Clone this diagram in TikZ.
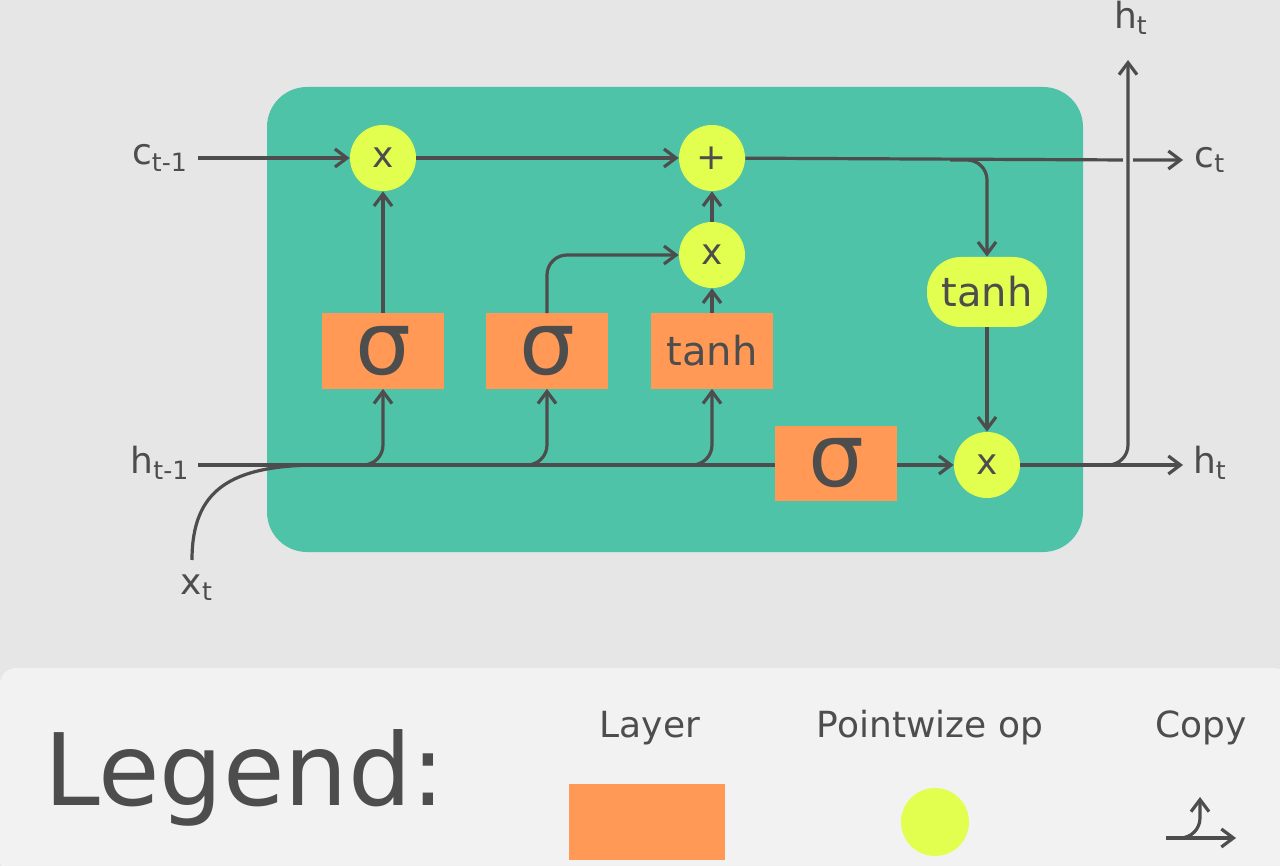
\documentclass[tikz,border=0pt]{standalone}
\usepackage{fontspec}
\setmainfont{DejaVu Sans}
\usetikzlibrary{arrows.meta}
\definecolor{bgtop}{HTML}{E6E6E6}
\definecolor{bgleg}{HTML}{F2F2F2}
\definecolor{cellc}{HTML}{4EC3A7}
\definecolor{layerc}{HTML}{FF9955}
\definecolor{opc}{HTML}{E2FF50}
\definecolor{ink}{HTML}{4D4D4D}
\tikzset{
  layer/.style={fill=layerc, minimum width=61pt, minimum height=37.5pt, inner sep=0pt, text=ink},
  pwop/.style={circle, fill=opc, minimum size=33pt, inner sep=0pt, text=ink, font=\fontsize{18}{18}\selectfont},
  pill/.style={rounded corners=17pt, fill=opc, minimum width=60pt, minimum height=35pt, inner sep=0pt, text=ink, font=\fontsize{20}{20}\selectfont},
  lbl/.style={text=ink, font=\fontsize{18}{18}\selectfont, inner sep=0pt},
  wire/.style={draw=ink, line width=1.6pt, rounded corners=10pt},
  arr/.style={wire, -{Straight Barb[length=6pt,width=9pt,line width=1.6pt]}},
  sig/.style={font=\fontsize{44}{44}\selectfont}
}
\begin{document}
\begin{tikzpicture}[x=0.5pt, y=-0.5pt]
  \useasboundingbox (0,0) rectangle (1280,866);
  \fill[bgtop] (0,0) rectangle (1280,866);
  \fill[bgleg, rounded corners=8pt] (0,668) rectangle (1290,876);
  % cell
  \fill[cellc, rounded corners=20pt] (267,87) rectangle (1083,552);

  % ops
  \node[pwop] (mulf) at (383,158) {x};
  \node[pwop] (add) at (712,158) {+};
  \node[pwop] (muli) at (712,255) {x};
  \node[pwop] (mulo) at (987,465) {x};
  \node[pill] (tanhc) at (987,292) {tanh};

  % layers
  \node[layer, sig] (sigf) at (383,351) {σ};
  \node[layer, sig] (sigi) at (547,351) {σ};
  \node[layer, font=\fontsize{20}{20}\selectfont] (tanhl) at (712,351) {tanh};
  \node[layer, sig] (sigo) at (836,463) {σ};

  % labels
  \node[lbl] (cin) at (160,158) {c\textsubscript{t-1}};
  \node[lbl] (hin) at (160,463) {h\textsubscript{t-1}};
  \node[lbl] (xin) at (197,588) {x\textsubscript{t}};
  \node[lbl] (cout) at (1210,160) {c\textsubscript{t}};
  \node[lbl] (hout) at (1210,463) {h\textsubscript{t}};
  \node[lbl] (hup) at (1131,18) {h\textsubscript{t}};

  \coordinate (cstart) at (198,158);
  \coordinate (hstart) at (198,465);
  \coordinate (xstart) at (192,560);
  \coordinate (cend) at (1183,160);
  \coordinate (hend) at (1183,465);
  \coordinate (hupend) at (1128,60);

  % hidden line and branches
  \draw[wire] (hstart) -- (sigo.west |- hstart);
  \draw[wire] (xstart) .. controls (192,490) and (230,465) .. (320,465);
  \draw[arr] (300,465) -| (sigf.south);
  \draw[arr] (470,465) -| (sigi.south);
  \draw[arr] (640,465) -| (tanhl.south);
  \draw[arr] (sigo.east |- mulo) -- (mulo);
  \draw[arr] (sigf) -- (mulf);
  \draw[arr] (sigi.north) |- (muli.west);
  \draw[arr] (tanhl) -- (muli);
  \draw[arr] (muli) -- (add);

  % cell state
  \draw[arr] (cstart) -- (mulf);
  \draw[arr] (mulf) -- (add);
  \draw[arr] (add) -- (1128,160) -- (cend);
  \draw[arr] (950,160) -| (tanhc.north);
  \draw[arr] (tanhc) -- (mulo);

  % output
  \draw[arr] (mulo) -- (hend);
  \draw[draw=bgtop, line width=5pt] (1128,145) -- (1128,175);
  \draw[arr] (1080,465) -| (hupend);

  % legend
  \node[text=ink, font=\fontsize{50}{50}\selectfont, inner sep=0pt] (legtitle) at (245,778) {Legend:};
  \node[lbl] (laytxt) at (650,728) {Layer};
  \node[lbl] (optxt) at (930,728) {Pointwize op};
  \node[lbl] (cptxt) at (1201,728) {Copy};
  \node[fill=layerc, minimum width=78pt, minimum height=38pt, inner sep=0pt] (laybox) at (647,822) {};
  \node[circle, fill=opc, minimum size=34pt, inner sep=0pt] (opbox) at (935,822) {};
  \coordinate (cpa) at (1166,838);
  \coordinate (cpb) at (1236,838);
  \coordinate (cpc) at (1200,797);
  \draw[arr] (cpa) -- (cpb);
  \draw[arr] (1180,838) -| (cpc);
\end{tikzpicture}
\end{document}
